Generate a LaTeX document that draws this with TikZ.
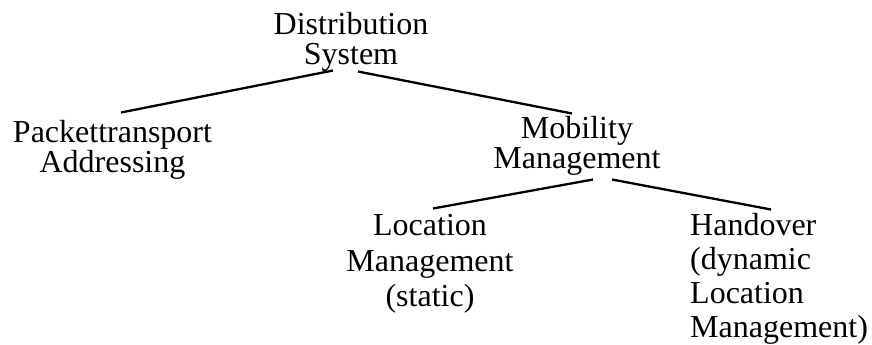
\documentclass[tikz,border=0pt]{standalone}
\usepackage{fontspec}
\setmainfont{Liberation Serif}
\tikzset{lbl/.style = {font = \fontsize{32}{#1}\selectfont, align = center, inner sep = 0}}
\tikzset{edge/.style = {line width = 2.3}}

\begin{document}
\begin{tikzpicture}[x = 1pt, y = -1pt]
    \useasboundingbox (0, 0) rectangle (872, 345);

    \node [lbl = 30, anchor = north] (dist) at (351, 12) {Distribution\\System};
    \node [lbl = 30, anchor = north] (pack) at (112.5, 120) {Packettransport\\Addressing};
    \node [lbl = 30, anchor = north] (mob) at (577, 116) {Mobility\\Management};
    \node [lbl = 35.5, anchor = north] (loc) at (430, 214.5) {Location\\Management\\(static)};
    \node [lbl = 34, align = left, anchor = north west] (hand) at (690, 213.5) {Handover\\(dynamic\\Location\\Management)};

    \draw [edge] ([xshift = -18pt, yshift = 1pt]dist.south) -- ([xshift = 8.5pt, yshift = 7.5pt]pack.north);
    \draw [edge] ([xshift = 7pt]dist.south) -- ([xshift = -5pt, yshift = 2.5pt]mob.north);
    \draw [edge] ([xshift = 16pt, yshift = -4pt]mob.south) -- ([xshift = 3pt, yshift = 6pt]loc.north);
    \draw [edge] ([xshift = 35pt, yshift = -4pt]mob.south) -- ([xshift = 81pt, yshift = 4pt]hand.north west);
  \end{tikzpicture}
\end{document}
